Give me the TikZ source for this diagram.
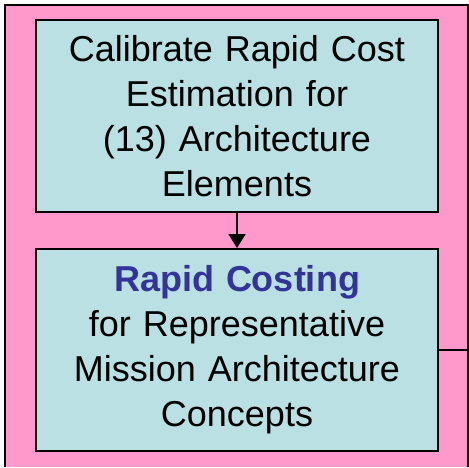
\documentclass[tikz,border=0pt]{standalone}
\usepackage{fontspec}
\setmainfont{Liberation Sans}
\usetikzlibrary{arrows.meta}

\definecolor{panelpink}{HTML}{FF99CC}
\definecolor{boxteal}{HTML}{BAE0E3}
\definecolor{titleblue}{HTML}{333399}

\tikzstyle{stepbox}=[draw, line width=2pt, fill=boxteal, minimum width=400pt,
  text width=396pt, align=center, font=\fontsize{36}{45}\selectfont]
\tikzstyle{flow}=[-{Triangle[width=17pt,length=14pt]}, line width=1.5pt]

\begin{document}
\begin{tikzpicture}[x=1pt, y=1pt]
      \useasboundingbox (0,0) rectangle (469,467);
      % pink panel, open at the bottom
      \fill[panelpink] (5,0) rectangle (468,462);
      \draw[line width=2pt] (5,0) -- (5,462) -- (468,462) -- (468,0);
      \coordinate (rightwall) at (468,117);
      \node[stepbox, minimum height=192pt] (calib) at (237,351)
        {\raisebox{-4pt}{\parbox{396pt}{\centering Calibrate Rapid Cost\\
         Estimation for\\ (13) Architecture\\ Elements}}};
      \node[stepbox, minimum height=202pt] (costing) at (237,117)
        {\raisebox{-3pt}{\parbox{396pt}{\centering
         {\color{titleblue}\bfseries Rapid Costing}\\ for Representative\\
         Mission Architecture\\ Concepts}}};
      \draw[flow] (calib) to (costing);
      \draw[line width=1.5pt] (costing) to (rightwall);
    \end{tikzpicture}
\end{document}
